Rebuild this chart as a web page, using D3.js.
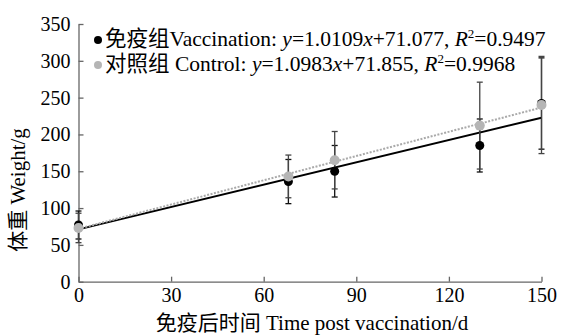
<!DOCTYPE html>
<html>
<head>
<meta charset="utf-8">
<script src="https://cdn.jsdelivr.net/npm/d3@7"></script>
<style>
  body { margin: 0; background: #fff; }
  svg text { font-family: "Liberation Serif", "Noto Sans CJK SC", serif; fill: #000; }
</style>
</head>
<body>
<svg id="chart" width="565" height="336"></svg>
<script>
// data
const days = [0, 68, 83, 130, 150];
const vaccMean = [77, 136, 150, 185, 242];
const vaccSd = [19, 30, 35, 36, 62];
const ctrlMean = [73, 143, 165, 212, 240];
const ctrlSd = [20, 29, 39, 59, 66];
const vaccFit = { slope: 1.0109, icept: 71.077, r2: "0.9497" };
const ctrlFit = { slope: 1.0983, icept: 71.855, r2: "0.9968" };
const xTicks = [0, 30, 60, 90, 120, 150];
const yTicks = [0, 50, 100, 150, 200, 250, 300, 350];

const svg = d3.select("#chart");
const m = { left: 78.5, right: 23.5, top: 24, bottom: 54.3 };
const w = 565, h = 336;

const x = d3.scaleLinear().domain([0, 150]).range([m.left, w - m.right]);
const y = d3.scaleLinear().domain([0, 350]).range([h - m.bottom, m.top]);

// axes, ticks pointing inward
const xAxis = d3.axisBottom(x).tickValues(xTicks).tickSizeInner(-5).tickSizeOuter(0).tickPadding(4);
const yAxis = d3.axisLeft(y).tickValues(yTicks).tickSizeInner(-5).tickSizeOuter(0).tickPadding(8);

const gx = svg.append("g").attr("transform", "translate(0," + y(0) + ")").call(xAxis);
const gy = svg.append("g").attr("transform", "translate(" + m.left + ",0)").call(yAxis);
[gx, gy].forEach(function(g) {
  g.attr("font-family", "Liberation Serif").attr("font-size", 20);
  g.select(".domain").attr("stroke", "#666").attr("stroke-width", 1.3);
  g.selectAll(".tick line").attr("stroke", "#666").attr("stroke-width", 1.3);
  g.selectAll(".tick text").attr("fill", "#000");
});
gx.selectAll(".tick text").attr("dy", "0.8em");

// axis titles
svg.append("text")
  .attr("x", 312).attr("y", 330)
  .attr("text-anchor", "middle").attr("font-size", 21)
  .text("免疫后时间 Time post vaccination/d");
svg.append("text")
  .attr("transform", "translate(25,190) rotate(-90)")
  .attr("text-anchor", "middle").attr("font-size", 21)
  .text("体重 Weight/g");

// regression lines
function fitLine(fit, color, dash) {
  svg.append("line")
    .attr("x1", x(0)).attr("y1", y(fit.icept))
    .attr("x2", x(150)).attr("y2", y(fit.slope * 150 + fit.icept))
    .attr("stroke", color).attr("stroke-width", 2)
    .attr("stroke-dasharray", dash);
}
fitLine(vaccFit, "#000", null);
fitLine(ctrlFit, "#aaa", "2,1.5");

// error bars
function errBars(means, sds, color) {
  const g = svg.append("g").attr("stroke", color).attr("stroke-width", 1.3);
  days.forEach(function(d, i) {
    const cx = x(d), top = y(means[i] + sds[i]), bot = y(means[i] - sds[i]);
    g.append("line").attr("x1", cx).attr("x2", cx).attr("y1", top).attr("y2", bot);
    g.append("line").attr("x1", cx - 3).attr("x2", cx + 3).attr("y1", top).attr("y2", top);
    g.append("line").attr("x1", cx - 3).attr("x2", cx + 3).attr("y1", bot).attr("y2", bot);
  });
}
errBars(vaccMean, vaccSd, "#111");
errBars(ctrlMean, ctrlSd, "#444");

// points
svg.append("g").selectAll("circle").data(days).join("circle")
  .attr("cx", function(d) { return x(d); })
  .attr("cy", function(d, i) { return y(vaccMean[i]); })
  .attr("r", 4.5).attr("fill", "#000");
svg.append("g").selectAll("circle").data(days).join("circle")
  .attr("cx", function(d) { return x(d); })
  .attr("cy", function(d, i) { return y(ctrlMean[i]); })
  .attr("r", 5).attr("fill", "#b5b5b5");

// legend
function legendRow(yy, color, label, fit) {
  svg.append("circle").attr("cx", 98).attr("cy", yy - 6).attr("r", 4).attr("fill", color);
  const t = svg.append("text").attr("x", 105).attr("y", yy).attr("font-size", 21.5);
  t.append("tspan").text(label);
  t.append("tspan").attr("font-style", "italic").text("y");
  t.append("tspan").text("=" + fit.slope.toFixed(4));
  t.append("tspan").attr("font-style", "italic").text("x");
  t.append("tspan").text("+" + fit.icept.toFixed(3) + ", ");
  t.append("tspan").attr("font-style", "italic").text("R");
  t.append("tspan").attr("font-size", 13).attr("dy", -8).text("2");
  t.append("tspan").attr("dy", 8).text("=" + fit.r2);
}
legendRow(46, "#000", "免疫组Vaccination: ", vaccFit);
legendRow(71, "#b5b5b5", "对照组 Control: ", ctrlFit);
</script>
</body>
</html>
